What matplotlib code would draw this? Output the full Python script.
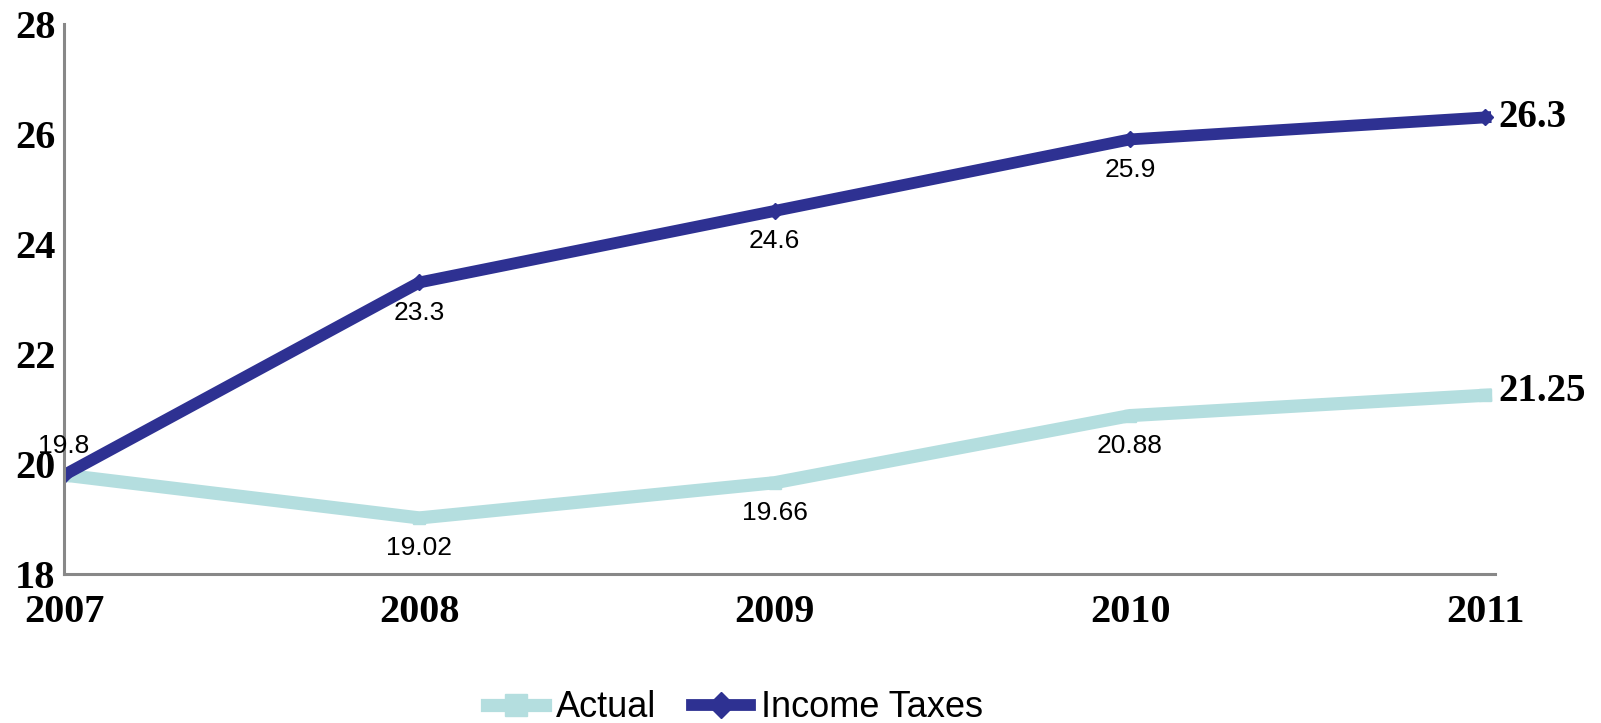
import matplotlib
matplotlib.use("Agg")
import matplotlib.pyplot as plt
from matplotlib.lines import Line2D

# data
years = ["2007", "2008", "2009", "2010", "2011"]
actual = [19.8, 19.02, 19.66, 20.88, 21.25]
income_taxes = [19.8, 23.3, 24.6, 25.9, 26.3]
y_ticks = [18, 20, 22, 24, 26, 28]

teal = "#B4DEDF"
navy = "#2E3192"

fig = plt.figure(figsize=(16.01, 7.23), dpi=100)
ax = fig.add_axes([0.040, 0.206, 0.894, 0.761])

x = list(range(len(years)))
ax.plot(x, actual, color=teal, lw=9.5, marker="s", markersize=9,
        solid_joinstyle="miter")
ax.plot(x, income_taxes, color=navy, lw=8.5, marker="D", markersize=8,
        solid_joinstyle="miter")

# data labels
lab_font = dict(family="Liberation Sans", fontsize=19)
for i in range(len(years) - 1):
    if i == 0:
        ax.annotate(f"{income_taxes[i]:g}", (x[i], income_taxes[i]), xytext=(0, 21),
                    textcoords="offset points", ha="center", va="center", **lab_font)
    else:
        ax.annotate(f"{income_taxes[i]:g}", (x[i], income_taxes[i]), xytext=(0, -22),
                    textcoords="offset points", ha="center", va="center", **lab_font)
        ax.annotate(f"{actual[i]:g}", (x[i], actual[i]), xytext=(0, -22),
                    textcoords="offset points", ha="center", va="center", **lab_font)

end_font = dict(family="Liberation Serif", fontsize=28, fontweight="bold")
ax.annotate(f"{income_taxes[-1]:g}", (x[-1], income_taxes[-1]), xytext=(9, 0),
            textcoords="offset points", ha="left", va="center", **end_font)
ax.annotate(f"{actual[-1]:g}", (x[-1], actual[-1]), xytext=(9, 3),
            textcoords="offset points", ha="left", va="center", **end_font)

ax.set_xlim(0, 4.028)
ax.set_ylim(18, 28)
ax.set_xticks(x)
ax.set_xticklabels(years)
ax.set_yticks(y_ticks)
for lbl in ax.get_xticklabels() + ax.get_yticklabels():
    lbl.set_family("Liberation Serif")
    lbl.set_fontweight("bold")
    lbl.set_fontsize(29)
ax.tick_params(axis="y", length=0, pad=6)
ax.tick_params(axis="x", length=0, pad=14)

for s in ["top", "right"]:
    ax.spines[s].set_visible(False)
for s in ["left", "bottom"]:
    ax.spines[s].set_color("#888888")
    ax.spines[s].set_linewidth(2.2)

handles = [
    Line2D([], [], color=teal, lw=9.5, marker="s", markersize=16),
    Line2D([], [], color=navy, lw=8.5, marker="D", markersize=13),
]
fig.legend(handles, ["Actual", "Income Taxes"], loc="center",
           bbox_to_anchor=(0.459, 0.021), ncol=2, frameon=False,
           prop={"family": "Liberation Sans", "size": 26}, handlelength=1.6,
           handletextpad=0.3, columnspacing=1.0)

fig.savefig("out.png", dpi=100)
